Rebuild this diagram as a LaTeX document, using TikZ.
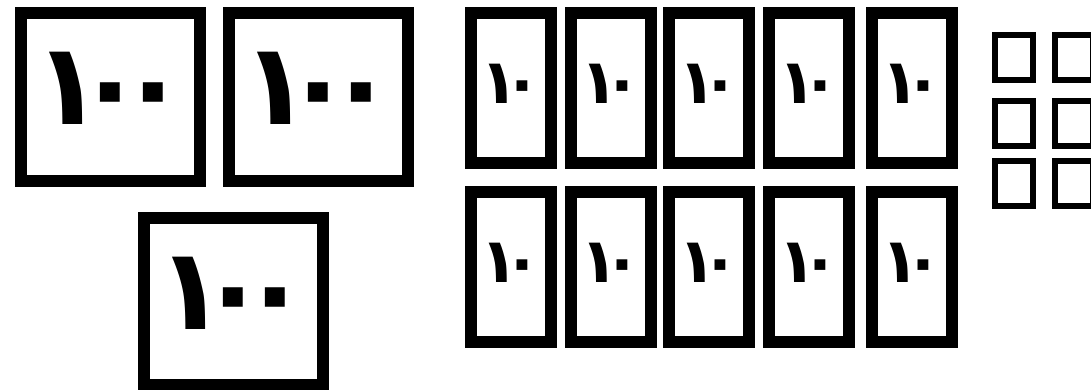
\documentclass[tikz,border=0pt]{standalone}
\usepackage{fontspec}
\usetikzlibrary{positioning}
\newfontfamily\arabicfont[Script=Arabic, LetterSpace=-24]{DejaVu Sans}

\begin{document}
\begin{tikzpicture}[
    x=1pt, y=-1pt,
    hundred/.style={
        rectangle, draw=black, line width=12pt, fill=white, inner sep=0pt,
        minimum width=178.7pt, minimum height=167.4pt, text depth=17pt,
        font=\arabicfont\bfseries\fontsize{114pt}{114pt}\selectfont
    },
    ten/.style={
        rectangle, draw=black, line width=12pt, fill=white, inner sep=0pt,
        minimum width=80pt, minimum height=150pt, text depth=8.6pt,
        font=\arabicfont\bfseries\fontsize{62pt}{62pt}\selectfont
    },
    unit/.style={
        rectangle, draw=black, line width=6pt, fill=white, inner sep=0pt,
        minimum width=38pt, minimum height=45pt
    },
]
\useasboundingbox (0,0) rectangle (1091,389);

% Hundreds
\node[hundred] (h1) at (110.7,97) {١٠٠};
\node[hundred, right=17.3pt of h1] (h2) {١٠٠};
\node[hundred] (h3) at (233.5,301.7) {١٠٠};

% Tens, top row
\node[ten] (t1) at (511,88.3) {١٠};
\node[ten, right=7.7pt of t1] (t2) {١٠};
\node[ten, right=6.3pt of t2] (t3) {١٠};
\node[ten, right=7.7pt of t3] (t4) {١٠};
\node[ten, right=11pt of t4] (t5) {١٠};

% Tens, bottom row
\node[ten, below=16.7pt of t1] (b1) {١٠};
\node[ten, below=16.7pt of t2] (b2) {١٠};
\node[ten, below=16.7pt of t3] (b3) {١٠};
\node[ten, below=16.7pt of t4] (b4) {١٠};
\node[ten, below=16.7pt of t5] (b5) {١٠};

% Ones
\node[unit] (u1) at (1013.7,57.2) {};
\node[unit, below=15.6pt of u1] (u2) {};
\node[unit, below=8.3pt of u2] (u3) {};
\node[unit, right=16.6pt of u1] (u4) {};
\node[unit, right=16.6pt of u2] (u5) {};
\node[unit, right=16.6pt of u3] (u6) {};

\end{tikzpicture}
\end{document}
